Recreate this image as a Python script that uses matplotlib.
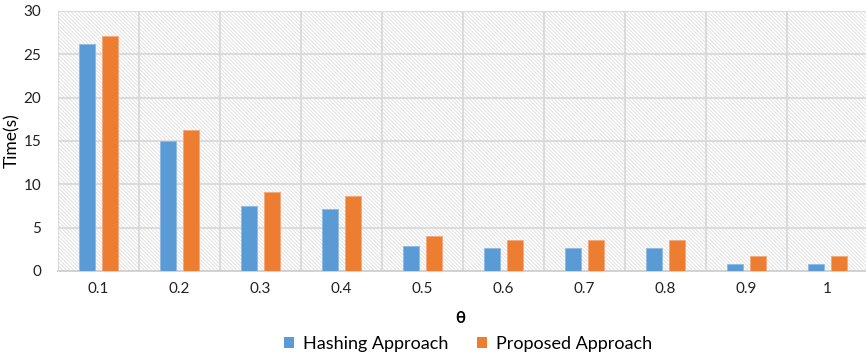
import matplotlib
matplotlib.use("Agg")
import matplotlib.pyplot as plt
from matplotlib.patches import Rectangle, Patch
import numpy as np

plt.rcParams['font.family'] = ['Lato', 'DejaVu Sans']
plt.rcParams['hatch.linewidth'] = 0.7
plt.rcParams['hatch.color'] = '#e2e2e2'

theta_labels = ['0.1', '0.2', '0.3', '0.4', '0.5', '0.6', '0.7', '0.8', '0.9', '1']
hashing = [26.2, 15.0, 7.5, 7.1, 2.9, 2.6, 2.6, 2.6, 0.8, 0.8]
proposed = [27.1, 16.3, 9.1, 8.7, 4.0, 3.6, 3.6, 3.6, 1.7, 1.7]

blue = '#5B9BD5'
orange = '#ED7D31'

fig = plt.figure(figsize=(8.66, 3.61), dpi=100)
ax = fig.add_axes([58/866, 90/361, 810/866, 260/361])

x = np.arange(len(theta_labels))
bw = 0.2
off = 0.142

# hatched plot-area background
ax.add_patch(Rectangle((0, 0), 1, 1, transform=ax.transAxes, facecolor='white',
                       edgecolor='#e2e2e2', hatch='\\' * 9, linewidth=0, zorder=0))

ax.bar(x - off, hashing, width=bw, color=blue, edgecolor='#8fb9e3', linewidth=0.6, zorder=3)
ax.bar(x + off, proposed, width=bw, color=orange, edgecolor='#f3a77a', linewidth=0.6, zorder=3)

ax.set_xlim(-0.5, len(theta_labels) - 0.5)
ax.set_ylim(0, 30)
ax.set_yticks([0, 5, 10, 15, 20, 25, 30])
ax.set_xticks(x)
ax.set_xticklabels(theta_labels)
ax.set_xticks(np.arange(-0.5, len(theta_labels), 1), minor=True)

ax.grid(axis='y', which='major', color='#d9d9d9', linewidth=1.3, zorder=1)
ax.grid(axis='x', which='minor', color='#d9d9d9', linewidth=1.3, zorder=1)
ax.set_axisbelow(True)

for s in ['left', 'right', 'top']:
    ax.spines[s].set_visible(False)
ax.spines['bottom'].set_color('#d0d0d0')
ax.spines['bottom'].set_linewidth(1.3)

ax.tick_params(axis='both', which='both', length=0, labelsize=11, colors='#222222', pad=8)
ax.tick_params(axis='y', pad=12)

ax.set_xlabel('θ', fontsize=12, fontweight='bold')
ax.xaxis.set_label_coords(0.5 - 3/810, -(310 - 271) / 260)
ax.set_ylabel('Time(s)', fontsize=12.5)
ax.yaxis.set_label_coords(-(58 - 20) / 810, 0.5)

handles = [Patch(facecolor=blue, label='Hashing Approach'),
           Patch(facecolor=orange, label='Proposed Approach')]
fig.legend(handles=handles, loc='center', bbox_to_anchor=(468/866, 1 - 344/361),
           ncol=2, frameon=False, fontsize=13, handlelength=0.55, handleheight=0.55,
           handletextpad=0.5, columnspacing=1.6)

fig.savefig('out.png', dpi=100)
